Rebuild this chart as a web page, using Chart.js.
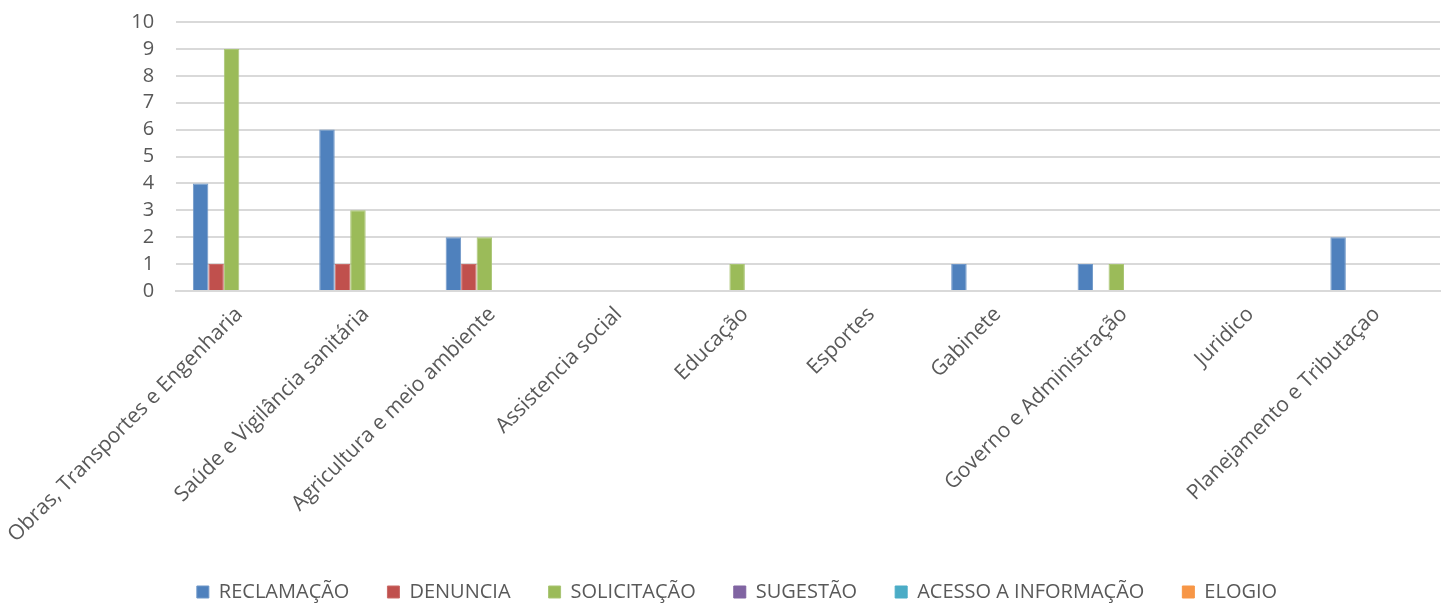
<!DOCTYPE html>
<html>
<head>
<meta charset="utf-8">
<script src="https://cdn.jsdelivr.net/npm/chart.js@4"></script>
<style>
  html, body { margin: 0; padding: 0; background: #fff; }
  #wrap { width: 1456px; height: 604px; }
</style>
</head>
<body>
<div id="wrap"><canvas id="chart" width="1456" height="604"></canvas></div>
<script>
const categories = ['Obras, Transportes e Engenharia', 'Saúde e Vigilância sanitária', 'Agricultura e meio ambiente',
    'Assistencia social', 'Educação', 'Esportes', 'Gabinete', 'Governo e Administração', 'Juridico',
    'Planejamento e Tributaçao'];
const reclamacao = [4, 6, 2, 0, 0, 0, 1, 1, 0, 2];
const denuncia = [1, 1, 1, 0, 0, 0, 0, 0, 0, 0];
const solicitacao = [9, 3, 2, 0, 1, 0, 0, 1, 0, 0];
const sugestao = [0, 0, 0, 0, 0, 0, 0, 0, 0, 0];
const acesso = [0, 0, 0, 0, 0, 0, 0, 0, 0, 0];
const elogio = [0, 0, 0, 0, 0, 0, 0, 0, 0, 0];
const yTicks = [0, 1, 2, 3, 4, 5, 6, 7, 8, 9, 10];

function series(label, data, color, border) {
    return { label: label, data: data, backgroundColor: color, borderColor: border, borderWidth: 1,
        barPercentage: 1, categoryPercentage: 0.735 };
}

// nudge the legend right, like in the original
const legendShift = {
    id: 'legendShift',
    afterLayout(chart) {
        const lg = chart.legend;
        if (lg) { lg.top += 2; lg.bottom += 2; lg.left += 17; lg.right += 17; }
    }
};

const ctx = document.getElementById('chart').getContext('2d');
new Chart(ctx, {
    type: 'bar',
    data: {
        labels: categories,
        datasets: [
            series('RECLAMAÇÃO', reclamacao, '#4f81bd', '#6f97c8'),
            series('DENUNCIA', denuncia, '#c0504d', '#c96a67'),
            series('SOLICITAÇÃO', solicitacao, '#9bbb59', '#a9c574'),
            series('SUGESTÃO', sugestao, '#8064a2', '#8064a2'),
            series('ACESSO A INFORMAÇÃO', acesso, '#4bacc6', '#4bacc6'),
            series('ELOGIO', elogio, '#f79646', '#f79646')
        ]
    },
    plugins: [legendShift],
    options: {
        responsive: false,
        animation: false,
        layout: { padding: { left: 0, right: 16, top: 22, bottom: -6 } },
        scales: {
            x: {
                grid: { display: false },
                border: { color: '#d9d9d9', width: 2 },
                afterFit: function(axis) { axis.height = 251; },
                ticks: {
                    color: '#595959',
                    font: { family: 'Open Sans', size: 21 },
                    minRotation: 45, maxRotation: 45, autoSkip: false
                }
            },
            y: {
                min: 0, max: 10,
                afterBuildTicks: function(axis) { axis.ticks = yTicks.map(v => ({ value: v })); },
                afterFit: function(axis) { axis.width = 175; axis.paddingTop = 0; axis.paddingBottom = 0; },
                grid: { color: '#d9d9d9', lineWidth: 2, drawTicks: false },
                border: { display: false },
                ticks: {
                    color: '#595959',
                    font: { family: 'Open Sans', size: 20 },
                    padding: 22, autoSkip: false, stepSize: 1
                }
            }
        },
        plugins: {
            legend: {
                position: 'bottom',
                labels: {
                    color: '#595959',
                    font: { family: 'Open Sans', size: 20 },
                    boxWidth: 12, boxHeight: 12, padding: 38
                }
            },
            tooltip: { enabled: false }
        }
    }
});
</script>
</body>
</html>
